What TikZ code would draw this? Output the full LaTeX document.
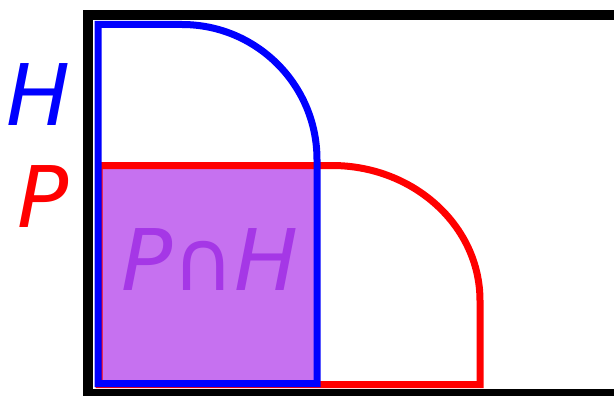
\documentclass[tikz,border=0pt]{standalone}
\usepackage{fontspec}
\setmainfont{DejaVu Sans}
\definecolor{interfill}{RGB}{198,113,240}
\definecolor{intertext}{RGB}{165,55,230}
\tikzset{
  redline/.style={draw=red, line width=7pt, line join=miter},
  blueline/.style={draw=blue, line width=7pt, line join=miter},
  frameline/.style={draw=black, line width=10pt},
  biglabel/.style={font=\fontsize{85}{85}\selectfont\itshape, inner sep=0pt, anchor=base}
}
\begin{document}
\begin{tikzpicture}[x=1pt,y=-1pt]
\useasboundingbox (0,0) rectangle (614,396);
\clip (0,0) rectangle (614,396);
\fill[interfill] (98,165.5) rectangle (317,383.5);
\draw[redline] (99,165.5) -- (332,165.5) .. controls (413.7,165.5) and (480,226) .. (480,300.5) -- (480,384.5) -- (99,384.5) -- cycle;
\draw[blueline] (98,383.5) -- (98,24.5) -- (182,24.5) .. controls (256.6,24.5) and (317,84.9) .. (317,159.5) -- (317,383.5) -- cycle;
\draw[frameline] (88,15.5) rectangle (618.5,394);
\node[biglabel, text=blue] (H) at (38,125) {H};
\node[biglabel, text=red] (P) at (43,227) {P};
\node[biglabel, text=intertext] (PH) at (210,290) {P∩H};
\end{tikzpicture}
\end{document}
